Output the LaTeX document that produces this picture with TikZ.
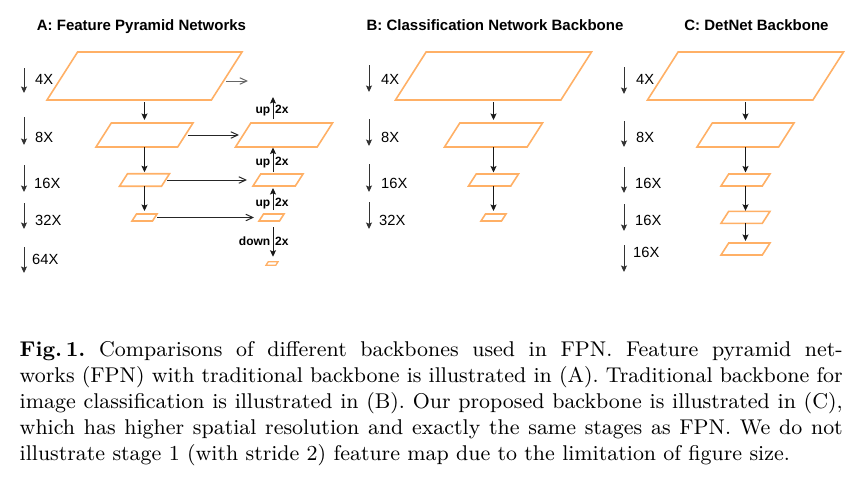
\documentclass[tikz,border=0pt]{standalone}
\usepackage{fontspec}
\usepackage{graphicx}
\newfontfamily\diafont{Liberation Sans}
\usetikzlibrary{arrows.meta}
\definecolor{fmorange}{RGB}{255,176,102}
% draw a parallelogram inside the named (invisible) box node #2 with skew #3
\newcommand{\pgramdraw}[3][]{%
  \draw[pgramline,#1] ([xshift=#3]#2.north west) -- (#2.north east)
    -- ([xshift=-#3]#2.south east) -- (#2.south west) -- cycle;}
\begin{document}
\begin{tikzpicture}[x=1pt,y=-1pt,
  fbox/.style={rectangle, draw=none, inner sep=0pt, outer sep=0pt},
  pgramline/.style={draw=fmorange, line width=1.6pt, line join=miter},
  varrow/.style={draw=black!90, line width=1pt, -{Stealth[length=6.5pt,width=6pt,inset=1.2pt]}},
  harrow/.style={draw=black!85, line width=1pt, -{Straight Barb[length=7pt,width=6.5pt]}},
  scalearrow/.style={draw=black!80, line width=1pt, -{Stealth[length=6.5pt,width=6pt,inset=1.2pt]}},
  paneltitle/.style={font=\diafont\bfseries\fontsize{15}{18}\selectfont, inner sep=0pt, anchor=base},
  scalelab/.style={font=\diafont\fontsize{14.7}{17}\selectfont, inner sep=0pt, anchor=west},
  uplab/.style={font=\diafont\bfseries\fontsize{12}{14}\selectfont, inner sep=0pt}
]
\useasboundingbox (0,0) rectangle (860,477);

% titles
\node[paneltitle] (tA) at (141.5,30) {A: Feature Pyramid Networks};
\node[paneltitle] (tB) at (495,30) {B: Classification Network Backbone};
\node[paneltitle] (tC) at (756.5,30.5) {C: DetNet Backbone};

% scale arrows and labels
\foreach \n/\x/\ya/\yb/\lx/\ly/\t in {
  A1/24/68/93/35/79/4X, A2/24/117/145/35/137/8X, A3/24/165/192/34/183/16X,
  A4/24/203/229/35/220/32X, A5/24/247/273/32/259.5/64X,
  B1/369/65/92/381/79/4X, B2/369/119/146/381/137/8X, B3/369/164/192/381/183/16X,
  B4/369/202/229/379/220/32X,
  C1/624/67/94/636/79/4X, C2/624/121/147/636/137/8X, C3/624/167/193/635/183/16X,
  C4/624/204/231/635/220/16X, C5/624/245/272/633/252/16X}{
  \coordinate (s\n t) at (\x,\ya);
  \coordinate (s\n b) at (\x,\yb);
  \draw[scalearrow] (s\n t) -- (s\n b);
  \node[scalelab] (l\n) at (\lx,\ly) {\t};
}

% ---------- Panel A ----------
\node[fbox, minimum width=195pt, minimum height=48pt] (A4) at (144.5,76) {};
\node[fbox, minimum width=97pt, minimum height=24pt] (A8) at (144.5,135) {};
\node[fbox, minimum width=50pt, minimum height=12.5pt] (A16) at (144.5,180) {};
\node[fbox, minimum width=25pt, minimum height=7pt] (A32) at (144.5,217.5) {};
\node[fbox, minimum width=97pt, minimum height=24pt] (R8) at (284,135) {};
\node[fbox, minimum width=50pt, minimum height=12pt] (R16) at (278,180) {};
\node[fbox, minimum width=25pt, minimum height=7pt] (R32) at (271.5,217.5) {};
\node[fbox, minimum width=12pt, minimum height=3.5pt] (R64) at (272,263.5) {};
\pgramdraw{A4}{30.6pt}
\pgramdraw{A8}{15.3pt}
\pgramdraw{A16}{8pt}
\pgramdraw{A32}{4.5pt}
\pgramdraw{R8}{15.3pt}
\pgramdraw{R16}{7.7pt}
\pgramdraw{R32}{4.5pt}
\pgramdraw[line width=1.3pt]{R64}{2.2pt}

\draw[varrow, shorten <=2pt, shorten >=3pt] (A4) -- (A8);
\draw[varrow, shorten >=1.5pt] (A8) -- (A16);
\draw[varrow, shorten >=3pt] (A16) -- (A32);

\coordinate (t4) at (248,81);
\draw[harrow, draw=black!60] ([xshift=-16pt,yshift=-5pt]A4.east) -- (t4);
\draw[harrow] ([xshift=-5pt]A8.east) -- ([xshift=3.5pt]R8.west);
\draw[harrow] ([xshift=-2.5pt]A16.east) -- ([xshift=-6pt]R16.west);
\draw[harrow] (A32.east) -- ([xshift=-5pt]R32.west);

\coordinate (ux) at (273,0);
\coordinate (u1) at (273,97);
\draw[varrow, shorten <=4pt] (R8.north -| ux) -- (u1);
\draw[varrow, shorten <=2pt, shorten >=0.5pt] (R16.north -| ux) -- (R8.south -| ux);
\draw[varrow, shorten <=4pt, shorten >=2pt] (R32.north -| ux) -- (R16.south -| ux);
\draw[varrow, shorten <=6pt, shorten >=5pt] (R32.south -| ux) -- (R64.north -| ux);

\node[uplab, anchor=base east] (up1) at (270.5,113.3) {up};
\node[uplab, anchor=base west] (fx1) at (275,113.3) {2x};
\node[uplab, anchor=base east] (up2) at (270.5,165) {up};
\node[uplab, anchor=base west] (fx2) at (275,165) {2x};
\node[uplab, anchor=base east] (up3) at (270.5,206.7) {up};
\node[uplab, anchor=base west] (fx3) at (275,206.7) {2x};
\node[uplab, anchor=base east] (dn4) at (270.5,245) {down};
\node[uplab, anchor=base west] (fx4) at (275,245) {2x};

% ---------- Panel B ----------
\node[fbox, minimum width=196pt, minimum height=48pt] (B4) at (493.5,76) {};
\node[fbox, minimum width=98pt, minimum height=24pt] (B8) at (493.5,135) {};
\node[fbox, minimum width=50pt, minimum height=12pt] (B16) at (493.5,180) {};
\node[fbox, minimum width=25pt, minimum height=7pt] (B32) at (493.5,217.5) {};
\pgramdraw{B4}{30.6pt}
\pgramdraw{B8}{15.3pt}
\pgramdraw{B16}{7.7pt}
\pgramdraw{B32}{4.5pt}
\draw[varrow, shorten <=2pt, shorten >=3pt] (B4) -- (B8);
\draw[varrow, shorten >=1.5pt] (B8) -- (B16);
\draw[varrow, shorten >=3pt] (B16) -- (B32);

% ---------- Panel C ----------
\node[fbox, minimum width=196pt, minimum height=48pt] (C4) at (745.5,76) {};
\node[fbox, minimum width=97pt, minimum height=24pt] (C8) at (745.5,135) {};
\node[fbox, minimum width=49pt, minimum height=12pt] (C16a) at (745.5,180) {};
\node[fbox, minimum width=49pt, minimum height=12pt] (C16b) at (745.5,217.3) {};
\node[fbox, minimum width=49pt, minimum height=12pt] (C16c) at (745.5,249) {};
\pgramdraw{C4}{30.6pt}
\pgramdraw{C8}{15.3pt}
\pgramdraw{C16a}{7.7pt}
\pgramdraw{C16b}{7.7pt}
\pgramdraw{C16c}{7.7pt}
\draw[varrow, shorten <=2pt, shorten >=3pt] (C4) -- (C8);
\draw[varrow, shorten >=1.5pt] (C8) -- (C16a);
\draw[varrow, shorten >=0.5pt] (C16a) -- (C16b);
\draw[varrow, shorten >=2pt] (C16b) -- (C16c);

% ---------- Caption ----------
\node[anchor=base west, inner sep=0pt] (cap) at (19.5,356) {\scalebox{2.372}{\parbox[t]{347pt}{\fontsize{9}{11}\selectfont
\textbf{Fig.\,1.}\ Comparisons of different backbones used in FPN. Feature pyramid net-\linebreak
works (FPN) with traditional backbone is illustrated in (A). Traditional backbone for\linebreak
image classification is illustrated in (B). Our proposed backbone is illustrated in (C),\linebreak
which has higher spatial resolution and exactly the same stages as FPN. We do not\linebreak
illustrate stage 1 (with stride 2) feature map due to the limitation of figure size.}}};
\end{tikzpicture}
\end{document}
